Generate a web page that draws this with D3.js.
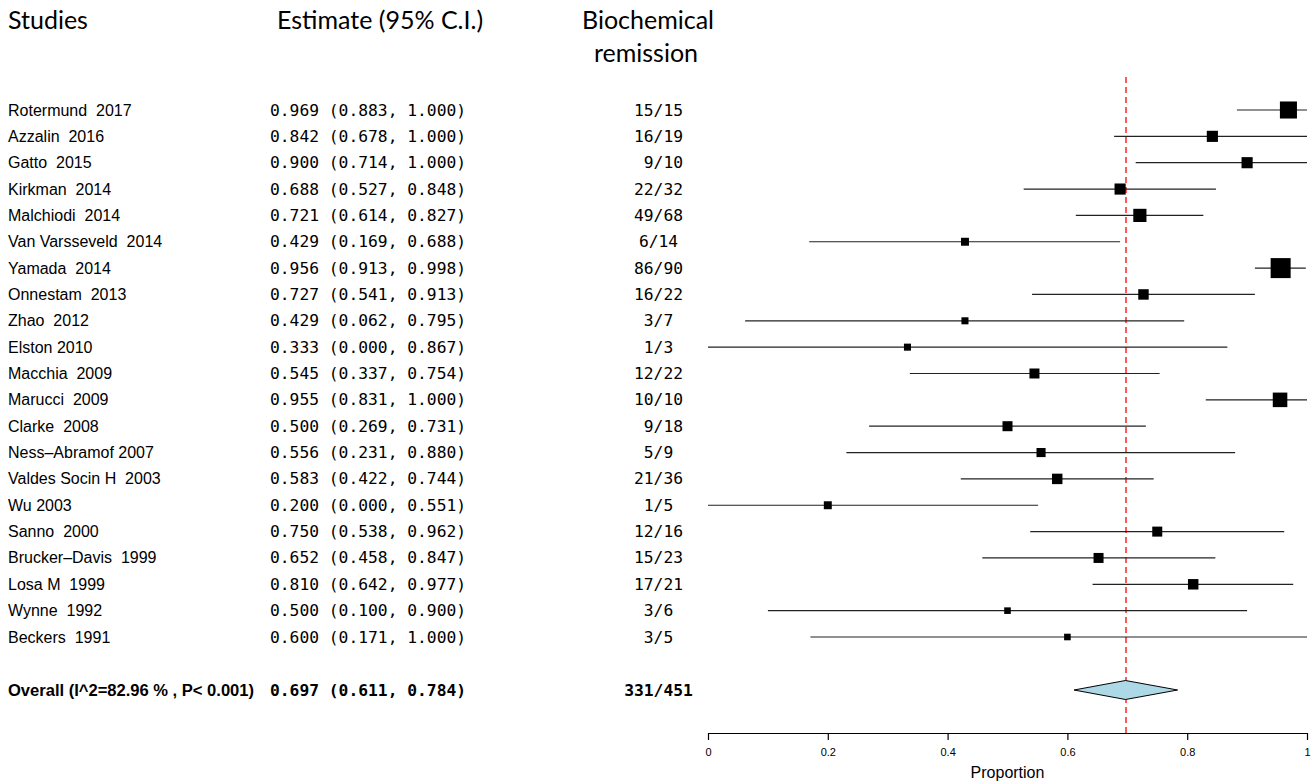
<!DOCTYPE html>
<html>
<head>
<meta charset="utf-8">
<script src="https://cdn.jsdelivr.net/npm/d3@7"></script>
<style>
  body { margin: 0; background: #fff; }
  text { white-space: pre; }
</style>
</head>
<body>
<div id="forest"></div>
<script>
// Datos del forest plot
const studies = ["Rotermund  2017", "Azzalin  2016", "Gatto  2015", "Kirkman  2014", "Malchiodi  2014",
  "Van Varsseveld  2014", "Yamada  2014", "Onnestam  2013", "Zhao  2012", "Elston 2010", "Macchia  2009",
  "Marucci  2009", "Clarke  2008", "Ness\u2013Abramof 2007", "Valdes Socin H  2003", "Wu 2003", "Sanno  2000",
  "Brucker\u2013Davis  1999", "Losa M  1999", "Wynne  1992", "Beckers  1991"];
const estimates = [0.969, 0.842, 0.900, 0.688, 0.721, 0.429, 0.956, 0.727, 0.429, 0.333, 0.545,
  0.955, 0.500, 0.556, 0.583, 0.200, 0.750, 0.652, 0.810, 0.500, 0.600];
const lower = [0.883, 0.678, 0.714, 0.527, 0.614, 0.169, 0.913, 0.541, 0.062, 0.000, 0.337,
  0.831, 0.269, 0.231, 0.422, 0.000, 0.538, 0.458, 0.642, 0.100, 0.171];
const upper = [1.000, 1.000, 1.000, 0.848, 0.827, 0.688, 0.998, 0.913, 0.795, 0.867, 0.754,
  1.000, 0.731, 0.880, 0.744, 0.551, 0.962, 0.847, 0.977, 0.900, 1.000];
const remission = ["15/15", "16/19", " 9/10", "22/32", "49/68", "6/14", "86/90", "16/22", "3/7", "1/3", "12/22",
  "10/10", " 9/18", "5/9", "21/36", "1/5", "12/16", "15/23", "17/21", "3/6", "3/5"];
const weights = [7.5, 4.9, 4.9, 4.9, 5.8, 3.5, 8.8, 4.6, 3.1, 3.1, 4.4,
  6.4, 4.4, 4.0, 4.6, 3.5, 4.4, 4.4, 4.6, 2.9, 2.9];
const overall = {label: "Overall (I^2=82.96 % , P< 0.001)", est: 0.697, lo: 0.611, hi: 0.784, n: "331/451"};
const xTicks = [0, 0.2, 0.4, 0.6, 0.8, 1];

const W = 1314, H = 781;
const svg = d3.select("#forest").append("svg")
  .attr("width", W).attr("height", H);

const x = d3.scaleLinear().domain([0, 1]).range([708, 1307]);
const y = d3.scaleLinear().domain([0, studies.length - 1]).range([110, 637]);
const yOverall = 690;
const size = d3.scaleLinear().domain([0, d3.max(weights)]).range([0, 20]);

const fmt = d3.format(".3f");
const ciText = (e, l, u) => fmt(e) + " (" + fmt(l) + ", " + fmt(u) + ")";

const headFont = "Lato, 'Open Sans', sans-serif";
const nameFont = "'Liberation Sans', Arial, sans-serif";
const monoFont = "'DejaVu Sans Mono', monospace";

// Encabezados
const head = svg.append("g").attr("font-family", headFont).attr("font-size", 25).attr("fill", "#000");
head.append("text").attr("x", 8).attr("y", 29).text("Studies");
head.append("text").attr("x", 277).attr("y", 29).text("Estimate (95% C.I.)");
head.append("text").attr("x", 648).attr("y", 29).attr("text-anchor", "middle").text("Biochemical");
head.append("text").attr("x", 646).attr("y", 62).attr("text-anchor", "middle").text("remission");

// Línea de referencia (estimación global)
const xRef = Math.round(x(overall.est));
svg.append("line")
  .attr("x1", xRef).attr("x2", xRef)
  .attr("y1", 77).attr("y2", 733)
  .attr("stroke", "#ff0000").attr("stroke-width", 1.3)
  .attr("stroke-dasharray", "6,4");

// Filas de estudios
const rows = svg.selectAll(".row")
  .data(studies)
  .enter()
  .append("g")
  .attr("class", "row");

rows.append("text")
  .attr("x", 8).attr("y", (d, i) => y(i) + 5.5)
  .attr("xml:space", "preserve")
  .attr("font-family", nameFont).attr("font-size", 16)
  .text(d => d);

rows.append("text")
  .attr("x", 270).attr("y", (d, i) => y(i) + 5.5)
  .attr("font-family", monoFont).attr("font-size", 16.3)
  .text((d, i) => ciText(estimates[i], lower[i], upper[i]));

rows.append("text")
  .attr("x", 658.5).attr("y", (d, i) => y(i) + 5.5)
  .attr("xml:space", "preserve")
  .style("white-space", "pre")
  .attr("text-anchor", "middle")
  .attr("font-family", monoFont).attr("font-size", 16.3)
  .text((d, i) => remission[i]);

rows.append("line")
  .attr("x1", (d, i) => x(lower[i])).attr("x2", (d, i) => x(upper[i]))
  .attr("y1", (d, i) => y(i)).attr("y2", (d, i) => y(i))
  .attr("stroke", "#222").attr("stroke-width", 1.2);

rows.append("rect")
  .attr("x", (d, i) => x(estimates[i]) - size(weights[i]) / 2)
  .attr("y", (d, i) => y(i) - size(weights[i]) / 2)
  .attr("width", (d, i) => size(weights[i]))
  .attr("height", (d, i) => size(weights[i]))
  .attr("fill", "#000");

// Fila global
svg.append("text")
  .attr("x", 8).attr("y", yOverall + 5.5)
  .attr("font-family", "'Liberation Sans Narrow', 'Liberation Sans', Arial, sans-serif")
  .attr("font-weight", "bold").attr("font-size", 16)
  .attr("textLength", 246).attr("lengthAdjust", "spacingAndGlyphs")
  .text(overall.label);

svg.append("text")
  .attr("x", 270).attr("y", yOverall + 5.5)
  .attr("font-family", monoFont).attr("font-weight", "bold").attr("font-size", 16.3)
  .text(ciText(overall.est, overall.lo, overall.hi));

svg.append("text")
  .attr("x", 658.5).attr("y", yOverall + 5.5)
  .attr("text-anchor", "middle")
  .attr("font-family", monoFont).attr("font-weight", "bold").attr("font-size", 16.3)
  .text(overall.n);

svg.append("path")
  .attr("d", "M" + x(overall.lo) + "," + yOverall
    + "L" + x(overall.est) + "," + (yOverall - 9.5)
    + "L" + x(overall.hi) + "," + yOverall
    + "L" + x(overall.est) + "," + (yOverall + 9.5) + "Z")
  .attr("fill", "#add8e6").attr("stroke", "#000").attr("stroke-width", 1);

// Eje X
const axis = svg.append("g")
  .attr("transform", "translate(0,733)")
  .call(d3.axisBottom(x).tickValues(xTicks).tickSize(7).tickSizeOuter(0)
    .tickFormat(d => d === 0 || d === 1 ? d3.format("d")(d) : d3.format(".1f")(d)));
axis.select(".domain").attr("stroke", "#000").attr("stroke-width", 1.2);
axis.selectAll(".tick line").attr("stroke", "#000").attr("stroke-width", 1.2);
axis.selectAll(".tick text")
  .attr("y", 15)
  .attr("font-family", nameFont).attr("font-size", 11).attr("fill", "#000");

svg.append("text")
  .attr("x", x(0.5)).attr("y", 778)
  .attr("text-anchor", "middle")
  .attr("font-family", nameFont).attr("font-size", 16)
  .text("Proportion");
</script>
</body>
</html>
